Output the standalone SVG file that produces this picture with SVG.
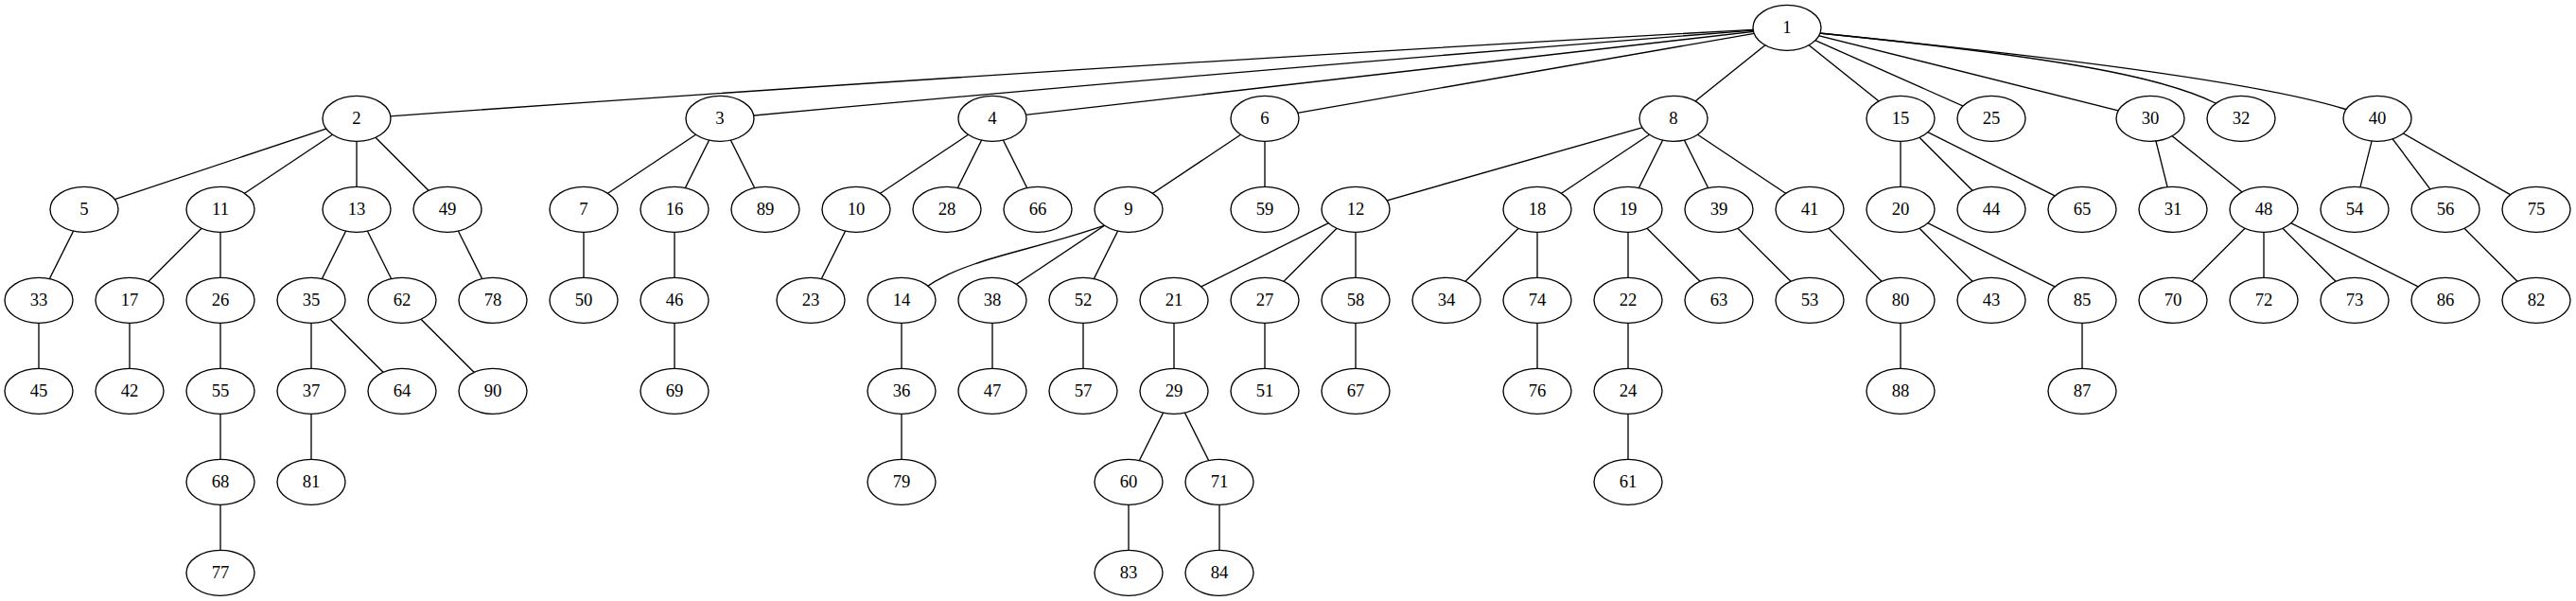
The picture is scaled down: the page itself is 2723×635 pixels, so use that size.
<svg xmlns="http://www.w3.org/2000/svg" width="2723" height="635" viewBox="0 0 2723 635">
<style>
.e line,.e path{stroke:#000;stroke-width:1.33;fill:none}
.n ellipse{fill:#fff;stroke:#000;stroke-width:1.33}
.n text{font-family:"Liberation Serif","Times New Roman",serif;font-size:18.67px;text-anchor:middle;fill:#000}
</style>
<rect width="2723" height="635" fill="#fff"/>
<g id="connectors" class="e">
<path d="M1889,29.3 Q1133,71 377,125.3"/>
<path d="M1889,29.3 Q1325,73 761,125.3"/>
<line x1="1889" y1="29.3" x2="1049" y2="125.3"/>
<line x1="1889" y1="29.3" x2="1337" y2="125.3"/>
<line x1="1889" y1="29.3" x2="1769" y2="125.3"/>
<line x1="1889" y1="29.3" x2="2009" y2="125.3"/>
<line x1="1889" y1="29.3" x2="2105" y2="125.3"/>
<line x1="1889" y1="29.3" x2="2273" y2="125.3"/>
<path d="M1889,29.3 L1923,35 C2150,58 2280,78 2342,109 L2369,125.3"/>
<path d="M1889,29.3 L1923,35 C2150,58 2380,85 2478,115 L2513,125.3"/>
<line x1="377" y1="125.3" x2="89" y2="221.3"/>
<line x1="377" y1="125.3" x2="233" y2="221.3"/>
<line x1="377" y1="125.3" x2="377" y2="221.3"/>
<line x1="377" y1="125.3" x2="473" y2="221.3"/>
<line x1="761" y1="125.3" x2="617" y2="221.3"/>
<line x1="761" y1="125.3" x2="713" y2="221.3"/>
<line x1="761" y1="125.3" x2="809" y2="221.3"/>
<line x1="1049" y1="125.3" x2="905" y2="221.3"/>
<line x1="1049" y1="125.3" x2="1001" y2="221.3"/>
<line x1="1049" y1="125.3" x2="1097" y2="221.3"/>
<line x1="1337" y1="125.3" x2="1193" y2="221.3"/>
<line x1="1337" y1="125.3" x2="1337" y2="221.3"/>
<line x1="1769" y1="125.3" x2="1433" y2="221.3"/>
<line x1="1769" y1="125.3" x2="1625" y2="221.3"/>
<line x1="1769" y1="125.3" x2="1721" y2="221.3"/>
<line x1="1769" y1="125.3" x2="1817" y2="221.3"/>
<line x1="1769" y1="125.3" x2="1913" y2="221.3"/>
<line x1="2009" y1="125.3" x2="2009" y2="221.3"/>
<line x1="2009" y1="125.3" x2="2105" y2="221.3"/>
<line x1="2009" y1="125.3" x2="2201" y2="221.3"/>
<line x1="2273" y1="125.3" x2="2297" y2="221.3"/>
<line x1="2273" y1="125.3" x2="2393" y2="221.3"/>
<line x1="2513" y1="125.3" x2="2489" y2="221.3"/>
<line x1="2513" y1="125.3" x2="2585" y2="221.3"/>
<line x1="2513" y1="125.3" x2="2681" y2="221.3"/>
<line x1="89" y1="221.3" x2="41" y2="317.3"/>
<line x1="233" y1="221.3" x2="137" y2="317.3"/>
<line x1="233" y1="221.3" x2="233" y2="317.3"/>
<line x1="377" y1="221.3" x2="329" y2="317.3"/>
<line x1="377" y1="221.3" x2="425" y2="317.3"/>
<line x1="473" y1="221.3" x2="521" y2="317.3"/>
<line x1="617" y1="221.3" x2="617" y2="317.3"/>
<line x1="713" y1="221.3" x2="713" y2="317.3"/>
<line x1="905" y1="221.3" x2="857" y2="317.3"/>
<path d="M1180,232 L1167,238.3 C1110,258 1060,268 1030,279 C1010,286 995,292 975,306"/>
<line x1="1193" y1="221.3" x2="1049" y2="317.3"/>
<line x1="1193" y1="221.3" x2="1145" y2="317.3"/>
<line x1="1433" y1="221.3" x2="1241" y2="317.3"/>
<line x1="1433" y1="221.3" x2="1337" y2="317.3"/>
<line x1="1433" y1="221.3" x2="1433" y2="317.3"/>
<line x1="1625" y1="221.3" x2="1529" y2="317.3"/>
<line x1="1625" y1="221.3" x2="1625" y2="317.3"/>
<line x1="1721" y1="221.3" x2="1721" y2="317.3"/>
<line x1="1721" y1="221.3" x2="1817" y2="317.3"/>
<line x1="1817" y1="221.3" x2="1913" y2="317.3"/>
<line x1="1913" y1="221.3" x2="2009" y2="317.3"/>
<line x1="2009" y1="221.3" x2="2105" y2="317.3"/>
<line x1="2009" y1="221.3" x2="2201" y2="317.3"/>
<line x1="2393" y1="221.3" x2="2297" y2="317.3"/>
<line x1="2393" y1="221.3" x2="2393" y2="317.3"/>
<line x1="2393" y1="221.3" x2="2489" y2="317.3"/>
<line x1="2393" y1="221.3" x2="2585" y2="317.3"/>
<line x1="2585" y1="221.3" x2="2681" y2="317.3"/>
<line x1="41" y1="317.3" x2="41" y2="413.3"/>
<line x1="137" y1="317.3" x2="137" y2="413.3"/>
<line x1="233" y1="317.3" x2="233" y2="413.3"/>
<line x1="329" y1="317.3" x2="329" y2="413.3"/>
<line x1="329" y1="317.3" x2="425" y2="413.3"/>
<line x1="425" y1="317.3" x2="521" y2="413.3"/>
<line x1="713" y1="317.3" x2="713" y2="413.3"/>
<line x1="953" y1="317.3" x2="953" y2="413.3"/>
<line x1="1049" y1="317.3" x2="1049" y2="413.3"/>
<line x1="1145" y1="317.3" x2="1145" y2="413.3"/>
<line x1="1241" y1="317.3" x2="1241" y2="413.3"/>
<line x1="1337" y1="317.3" x2="1337" y2="413.3"/>
<line x1="1433" y1="317.3" x2="1433" y2="413.3"/>
<line x1="1625" y1="317.3" x2="1625" y2="413.3"/>
<line x1="1721" y1="317.3" x2="1721" y2="413.3"/>
<line x1="2009" y1="317.3" x2="2009" y2="413.3"/>
<line x1="2201" y1="317.3" x2="2201" y2="413.3"/>
<line x1="233" y1="413.3" x2="233" y2="509.3"/>
<line x1="329" y1="413.3" x2="329" y2="509.3"/>
<line x1="953" y1="413.3" x2="953" y2="509.3"/>
<line x1="1241" y1="413.3" x2="1193" y2="509.3"/>
<line x1="1241" y1="413.3" x2="1289" y2="509.3"/>
<line x1="1721" y1="413.3" x2="1721" y2="509.3"/>
<line x1="233" y1="509.3" x2="233" y2="605.3"/>
<line x1="1193" y1="509.3" x2="1193" y2="605.3"/>
<line x1="1289" y1="509.3" x2="1289" y2="605.3"/>
</g>
<g class="n">
<g id="node1"><ellipse cx="1889" cy="29.3" rx="36" ry="24"/><text x="1889" y="35.3">1</text></g>
<g id="node2"><ellipse cx="377" cy="125.3" rx="36" ry="24"/><text x="377" y="131.3">2</text></g>
<g id="node3"><ellipse cx="761" cy="125.3" rx="36" ry="24"/><text x="761" y="131.3">3</text></g>
<g id="node4"><ellipse cx="1049" cy="125.3" rx="36" ry="24"/><text x="1049" y="131.3">4</text></g>
<g id="node6"><ellipse cx="1337" cy="125.3" rx="36" ry="24"/><text x="1337" y="131.3">6</text></g>
<g id="node8"><ellipse cx="1769" cy="125.3" rx="36" ry="24"/><text x="1769" y="131.3">8</text></g>
<g id="node15"><ellipse cx="2009" cy="125.3" rx="36" ry="24"/><text x="2009" y="131.3">15</text></g>
<g id="node25"><ellipse cx="2105" cy="125.3" rx="36" ry="24"/><text x="2105" y="131.3">25</text></g>
<g id="node30"><ellipse cx="2273" cy="125.3" rx="36" ry="24"/><text x="2273" y="131.3">30</text></g>
<g id="node32"><ellipse cx="2369" cy="125.3" rx="36" ry="24"/><text x="2369" y="131.3">32</text></g>
<g id="node40"><ellipse cx="2513" cy="125.3" rx="36" ry="24"/><text x="2513" y="131.3">40</text></g>
<g id="node5"><ellipse cx="89" cy="221.3" rx="36" ry="24"/><text x="89" y="227.3">5</text></g>
<g id="node11"><ellipse cx="233" cy="221.3" rx="36" ry="24"/><text x="233" y="227.3">11</text></g>
<g id="node13"><ellipse cx="377" cy="221.3" rx="36" ry="24"/><text x="377" y="227.3">13</text></g>
<g id="node49"><ellipse cx="473" cy="221.3" rx="36" ry="24"/><text x="473" y="227.3">49</text></g>
<g id="node7"><ellipse cx="617" cy="221.3" rx="36" ry="24"/><text x="617" y="227.3">7</text></g>
<g id="node16"><ellipse cx="713" cy="221.3" rx="36" ry="24"/><text x="713" y="227.3">16</text></g>
<g id="node89"><ellipse cx="809" cy="221.3" rx="36" ry="24"/><text x="809" y="227.3">89</text></g>
<g id="node10"><ellipse cx="905" cy="221.3" rx="36" ry="24"/><text x="905" y="227.3">10</text></g>
<g id="node28"><ellipse cx="1001" cy="221.3" rx="36" ry="24"/><text x="1001" y="227.3">28</text></g>
<g id="node66"><ellipse cx="1097" cy="221.3" rx="36" ry="24"/><text x="1097" y="227.3">66</text></g>
<g id="node9"><ellipse cx="1193" cy="221.3" rx="36" ry="24"/><text x="1193" y="227.3">9</text></g>
<g id="node59"><ellipse cx="1337" cy="221.3" rx="36" ry="24"/><text x="1337" y="227.3">59</text></g>
<g id="node12"><ellipse cx="1433" cy="221.3" rx="36" ry="24"/><text x="1433" y="227.3">12</text></g>
<g id="node18"><ellipse cx="1625" cy="221.3" rx="36" ry="24"/><text x="1625" y="227.3">18</text></g>
<g id="node19"><ellipse cx="1721" cy="221.3" rx="36" ry="24"/><text x="1721" y="227.3">19</text></g>
<g id="node39"><ellipse cx="1817" cy="221.3" rx="36" ry="24"/><text x="1817" y="227.3">39</text></g>
<g id="node41"><ellipse cx="1913" cy="221.3" rx="36" ry="24"/><text x="1913" y="227.3">41</text></g>
<g id="node20"><ellipse cx="2009" cy="221.3" rx="36" ry="24"/><text x="2009" y="227.3">20</text></g>
<g id="node44"><ellipse cx="2105" cy="221.3" rx="36" ry="24"/><text x="2105" y="227.3">44</text></g>
<g id="node65"><ellipse cx="2201" cy="221.3" rx="36" ry="24"/><text x="2201" y="227.3">65</text></g>
<g id="node31"><ellipse cx="2297" cy="221.3" rx="36" ry="24"/><text x="2297" y="227.3">31</text></g>
<g id="node48"><ellipse cx="2393" cy="221.3" rx="36" ry="24"/><text x="2393" y="227.3">48</text></g>
<g id="node54"><ellipse cx="2489" cy="221.3" rx="36" ry="24"/><text x="2489" y="227.3">54</text></g>
<g id="node56"><ellipse cx="2585" cy="221.3" rx="36" ry="24"/><text x="2585" y="227.3">56</text></g>
<g id="node75"><ellipse cx="2681" cy="221.3" rx="36" ry="24"/><text x="2681" y="227.3">75</text></g>
<g id="node33"><ellipse cx="41" cy="317.3" rx="36" ry="24"/><text x="41" y="323.3">33</text></g>
<g id="node17"><ellipse cx="137" cy="317.3" rx="36" ry="24"/><text x="137" y="323.3">17</text></g>
<g id="node26"><ellipse cx="233" cy="317.3" rx="36" ry="24"/><text x="233" y="323.3">26</text></g>
<g id="node35"><ellipse cx="329" cy="317.3" rx="36" ry="24"/><text x="329" y="323.3">35</text></g>
<g id="node62"><ellipse cx="425" cy="317.3" rx="36" ry="24"/><text x="425" y="323.3">62</text></g>
<g id="node78"><ellipse cx="521" cy="317.3" rx="36" ry="24"/><text x="521" y="323.3">78</text></g>
<g id="node50"><ellipse cx="617" cy="317.3" rx="36" ry="24"/><text x="617" y="323.3">50</text></g>
<g id="node46"><ellipse cx="713" cy="317.3" rx="36" ry="24"/><text x="713" y="323.3">46</text></g>
<g id="node23"><ellipse cx="857" cy="317.3" rx="36" ry="24"/><text x="857" y="323.3">23</text></g>
<g id="node14"><ellipse cx="953" cy="317.3" rx="36" ry="24"/><text x="953" y="323.3">14</text></g>
<g id="node38"><ellipse cx="1049" cy="317.3" rx="36" ry="24"/><text x="1049" y="323.3">38</text></g>
<g id="node52"><ellipse cx="1145" cy="317.3" rx="36" ry="24"/><text x="1145" y="323.3">52</text></g>
<g id="node21"><ellipse cx="1241" cy="317.3" rx="36" ry="24"/><text x="1241" y="323.3">21</text></g>
<g id="node27"><ellipse cx="1337" cy="317.3" rx="36" ry="24"/><text x="1337" y="323.3">27</text></g>
<g id="node58"><ellipse cx="1433" cy="317.3" rx="36" ry="24"/><text x="1433" y="323.3">58</text></g>
<g id="node34"><ellipse cx="1529" cy="317.3" rx="36" ry="24"/><text x="1529" y="323.3">34</text></g>
<g id="node74"><ellipse cx="1625" cy="317.3" rx="36" ry="24"/><text x="1625" y="323.3">74</text></g>
<g id="node22"><ellipse cx="1721" cy="317.3" rx="36" ry="24"/><text x="1721" y="323.3">22</text></g>
<g id="node63"><ellipse cx="1817" cy="317.3" rx="36" ry="24"/><text x="1817" y="323.3">63</text></g>
<g id="node53"><ellipse cx="1913" cy="317.3" rx="36" ry="24"/><text x="1913" y="323.3">53</text></g>
<g id="node80"><ellipse cx="2009" cy="317.3" rx="36" ry="24"/><text x="2009" y="323.3">80</text></g>
<g id="node43"><ellipse cx="2105" cy="317.3" rx="36" ry="24"/><text x="2105" y="323.3">43</text></g>
<g id="node85"><ellipse cx="2201" cy="317.3" rx="36" ry="24"/><text x="2201" y="323.3">85</text></g>
<g id="node70"><ellipse cx="2297" cy="317.3" rx="36" ry="24"/><text x="2297" y="323.3">70</text></g>
<g id="node72"><ellipse cx="2393" cy="317.3" rx="36" ry="24"/><text x="2393" y="323.3">72</text></g>
<g id="node73"><ellipse cx="2489" cy="317.3" rx="36" ry="24"/><text x="2489" y="323.3">73</text></g>
<g id="node86"><ellipse cx="2585" cy="317.3" rx="36" ry="24"/><text x="2585" y="323.3">86</text></g>
<g id="node82"><ellipse cx="2681" cy="317.3" rx="36" ry="24"/><text x="2681" y="323.3">82</text></g>
<g id="node45"><ellipse cx="41" cy="413.3" rx="36" ry="24"/><text x="41" y="419.3">45</text></g>
<g id="node42"><ellipse cx="137" cy="413.3" rx="36" ry="24"/><text x="137" y="419.3">42</text></g>
<g id="node55"><ellipse cx="233" cy="413.3" rx="36" ry="24"/><text x="233" y="419.3">55</text></g>
<g id="node37"><ellipse cx="329" cy="413.3" rx="36" ry="24"/><text x="329" y="419.3">37</text></g>
<g id="node64"><ellipse cx="425" cy="413.3" rx="36" ry="24"/><text x="425" y="419.3">64</text></g>
<g id="node90"><ellipse cx="521" cy="413.3" rx="36" ry="24"/><text x="521" y="419.3">90</text></g>
<g id="node69"><ellipse cx="713" cy="413.3" rx="36" ry="24"/><text x="713" y="419.3">69</text></g>
<g id="node36"><ellipse cx="953" cy="413.3" rx="36" ry="24"/><text x="953" y="419.3">36</text></g>
<g id="node47"><ellipse cx="1049" cy="413.3" rx="36" ry="24"/><text x="1049" y="419.3">47</text></g>
<g id="node57"><ellipse cx="1145" cy="413.3" rx="36" ry="24"/><text x="1145" y="419.3">57</text></g>
<g id="node29"><ellipse cx="1241" cy="413.3" rx="36" ry="24"/><text x="1241" y="419.3">29</text></g>
<g id="node51"><ellipse cx="1337" cy="413.3" rx="36" ry="24"/><text x="1337" y="419.3">51</text></g>
<g id="node67"><ellipse cx="1433" cy="413.3" rx="36" ry="24"/><text x="1433" y="419.3">67</text></g>
<g id="node76"><ellipse cx="1625" cy="413.3" rx="36" ry="24"/><text x="1625" y="419.3">76</text></g>
<g id="node24"><ellipse cx="1721" cy="413.3" rx="36" ry="24"/><text x="1721" y="419.3">24</text></g>
<g id="node88"><ellipse cx="2009" cy="413.3" rx="36" ry="24"/><text x="2009" y="419.3">88</text></g>
<g id="node87"><ellipse cx="2201" cy="413.3" rx="36" ry="24"/><text x="2201" y="419.3">87</text></g>
<g id="node68"><ellipse cx="233" cy="509.3" rx="36" ry="24"/><text x="233" y="515.3">68</text></g>
<g id="node81"><ellipse cx="329" cy="509.3" rx="36" ry="24"/><text x="329" y="515.3">81</text></g>
<g id="node79"><ellipse cx="953" cy="509.3" rx="36" ry="24"/><text x="953" y="515.3">79</text></g>
<g id="node60"><ellipse cx="1193" cy="509.3" rx="36" ry="24"/><text x="1193" y="515.3">60</text></g>
<g id="node71"><ellipse cx="1289" cy="509.3" rx="36" ry="24"/><text x="1289" y="515.3">71</text></g>
<g id="node61"><ellipse cx="1721" cy="509.3" rx="36" ry="24"/><text x="1721" y="515.3">61</text></g>
<g id="node77"><ellipse cx="233" cy="605.3" rx="36" ry="24"/><text x="233" y="611.3">77</text></g>
<g id="node83"><ellipse cx="1193" cy="605.3" rx="36" ry="24"/><text x="1193" y="611.3">83</text></g>
<g id="node84"><ellipse cx="1289" cy="605.3" rx="36" ry="24"/><text x="1289" y="611.3">84</text></g>
</g>
</svg>
